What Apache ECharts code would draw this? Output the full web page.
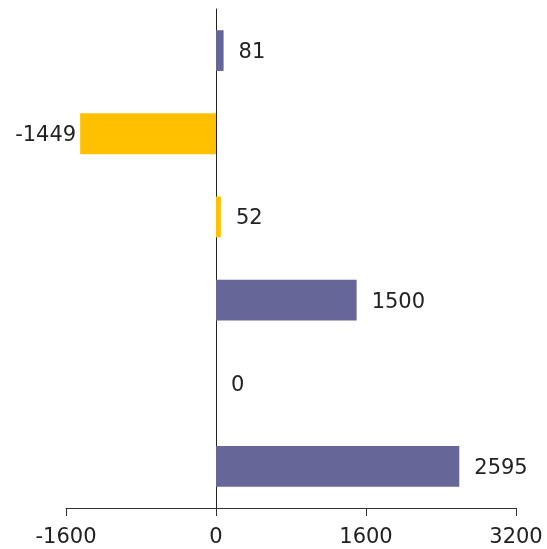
<!DOCTYPE html>
<html>
<head>
<meta charset="utf-8">
<script src="https://cdn.jsdelivr.net/npm/echarts@6/dist/echarts.min.js"></script>
<style>
  html, body { margin: 0; padding: 0; background: #ffffff; }
  #chart { width: 547px; height: 549px; }
</style>
</head>
<body>
<div id="chart"></div>
<script>
// Categories run bottom-to-top on the category axis
const categories = ['F', 'E', 'D', 'C', 'B', 'A'];
const values = [2595, 0, 1500, 52, -1449, 81];
const barColors = ['#666699', '#666699', '#666699', '#FFC000', '#FFC000', '#666699'];
const xTicks = [-1600, 0, 1600, 3200];

const FONT = "'DejaVu Sans', Verdana, sans-serif";

const seriesData = values.map((v, i) => ({
  value: v,
  itemStyle: { color: barColors[i] },
  label: v < 0
    ? { position: 'left', distance: 4 }
    : { position: 'right', distance: 15 }
}));

const chart = echarts.init(document.getElementById('chart'), null, { renderer: 'canvas' });
chart.setOption({
  animation: false,
  backgroundColor: '#ffffff',
  grid: { left: 66, right: 31, top: 9, bottom: 41, containLabel: false },
  xAxis: {
    type: 'value',
    min: xTicks[0],
    max: xTicks[xTicks.length - 1],
    interval: 1600,
    axisLine: { show: true, onZero: false, lineStyle: { color: '#333333', width: 1 } },
    axisTick: { show: true, length: 8, lineStyle: { color: '#333333' } },
    splitLine: { show: false },
    axisLabel: {
      color: '#222222', fontFamily: FONT, fontSize: 21, margin: 19,
      formatter: v => String(v)
    }
  },
  yAxis: {
    type: 'category',
    data: categories,
    axisLine: { show: true, onZero: true, lineStyle: { color: '#222222', width: 1 } },
    axisTick: { show: false },
    axisLabel: { show: false },
    splitLine: { show: false }
  },
  series: [{
    type: 'bar',
    data: seriesData,
    barWidth: '49%',
    label: {
      show: true,
      color: '#222222',
      fontFamily: FONT,
      fontSize: 21,
      offset: [0, 2],
      formatter: p => String(p.value)
    }
  }]
});
</script>
</body>
</html>
